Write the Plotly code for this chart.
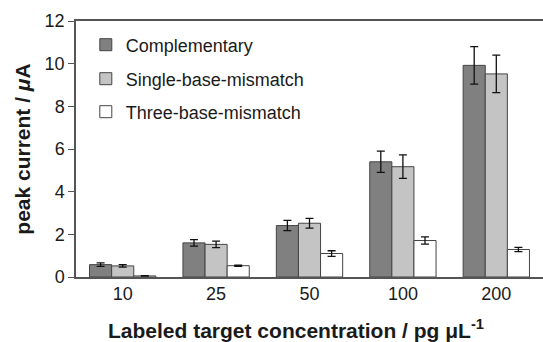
import plotly.graph_objects as go

categories = ["10", "25", "50", "100", "200"]
comp = [0.58, 1.60, 2.41, 5.40, 9.92]
comp_err = [0.08, 0.15, 0.24, 0.50, 0.88]
single = [0.52, 1.53, 2.52, 5.17, 9.52]
single_err = [0.06, 0.15, 0.23, 0.55, 0.88]
three = [0.05, 0.53, 1.10, 1.71, 1.29]
three_err = [0.01, 0.03, 0.13, 0.17, 0.10]
names = ["Complementary", "Single-base-mismatch", "Three-base-mismatch"]
colors = ["#808080", "#c4c4c4", "#ffffff"]
x_title = "<b>Labeled target concentration / pg μL<sup>-1</sup></b>"
y_title = "<b>peak current / <i>μ</i>A</b>"

FONT = "Liberation Sans, Arial, sans-serif"
fig = go.Figure()
for i, (vals, errs) in enumerate([(comp, comp_err), (single, single_err), (three, three_err)]):
    fig.add_trace(go.Bar(
        x=categories, y=vals, name=names[i], showlegend=True,
        marker=dict(color=colors[i], line=dict(color="#444444", width=1)),
        error_y=dict(type="data", array=errs, visible=True, color="#111111", thickness=1.3, width=4),
        legend="legend" if i == 0 else f"legend{i+1}",
    ))

leg = dict(font=dict(family=FONT, size=18, color="#1a1a1a"), bgcolor="rgba(0,0,0,0)",
           xanchor="left", yanchor="middle", x=0.021)
fig.update_layout(
    width=543, height=342,
    margin=dict(l=76, r=0, t=21, b=65),
    paper_bgcolor="white", plot_bgcolor="white",
    barmode="group", bargap=0.29, bargroupgap=0, showlegend=True,
    font=dict(family=FONT, size=18, color="#1a1a1a"),
    legend=dict(leg, y=1 - (45 - 21) / 256),
    legend2=dict(leg, y=1 - (79 - 21) / 256),
    legend3=dict(leg, y=1 - (112 - 21) / 256),
    xaxis=dict(showline=True, linecolor="#555555", linewidth=1.5, mirror=True, ticks="",
               tickfont=dict(size=18), showgrid=False),
    yaxis=dict(range=[0, 12], dtick=2, showline=True, linecolor="#555555", linewidth=1.5,
               ticks="outside", ticklen=6, tickcolor="#555555", showgrid=False, zeroline=False,
               tickfont=dict(size=18),
               title=dict(text=y_title, font=dict(size=21), standoff=8)),
    annotations=[dict(text=x_title, xref="paper", yref="paper", x=0.471, y=0,
                      xanchor="center", yanchor="middle", yshift=-52, showarrow=False,
                      font=dict(family=FONT, size=21, color="#1a1a1a"))],
)
fig.write_html("out.html")
